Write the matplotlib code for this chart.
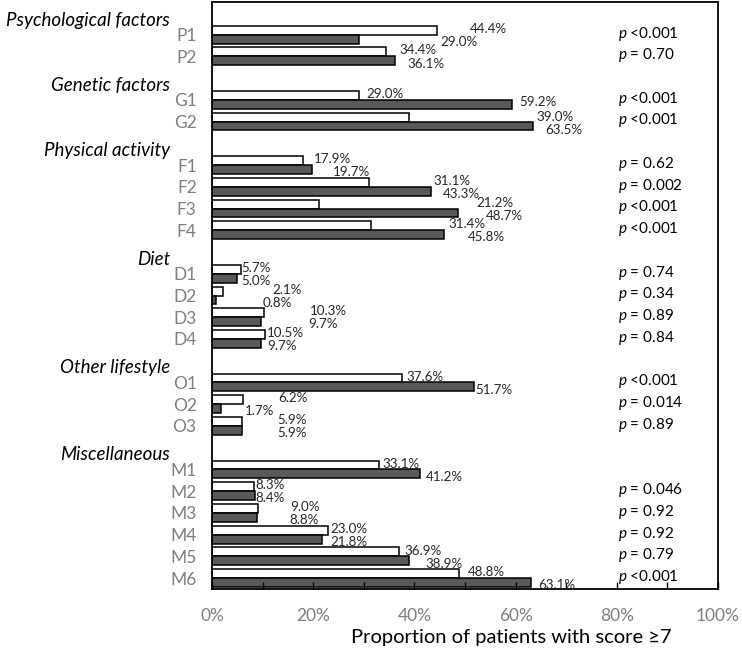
import matplotlib
matplotlib.use("Agg")
import matplotlib.pyplot as plt
from matplotlib.ticker import MultipleLocator

plt.rcParams['font.family'] = ['Lato', 'DejaVu Sans']
plt.rcParams['mathtext.fontset'] = 'custom'
plt.rcParams['mathtext.it'] = 'Lato:italic'
plt.rcParams['mathtext.rm'] = 'Lato'

# data
groups = ['Psychological factors', 'Genetic factors', 'Physical activity',
          'Diet', 'Other lifestyle', 'Miscellaneous']
group_items = [['P1', 'P2'],
               ['G1', 'G2'],
               ['F1', 'F2', 'F3', 'F4'],
               ['D1', 'D2', 'D3', 'D4'],
               ['O1', 'O2', 'O3'],
               ['M1', 'M2', 'M3', 'M4', 'M5', 'M6']]
white_vals = [44.4, 34.4, 29.0, 39.0, 17.9, 31.1, 21.2, 31.4, 5.7, 2.1, 10.3,
              10.5, 37.6, 6.2, 5.9, 33.1, 8.3, 9.0, 23.0, 36.9, 48.8]
dark_vals = [29.0, 36.1, 59.2, 63.5, 19.7, 43.3, 48.7, 45.8, 5.0, 0.8, 9.7,
             9.7, 51.7, 1.7, 5.9, 41.2, 8.4, 8.8, 21.8, 38.9, 63.1]
p_labels = ['<0.001', '= 0.70', '<0.001', '<0.001', '= 0.62', '= 0.002',
            '<0.001', '<0.001', '= 0.74', '= 0.34', '= 0.89', '= 0.84',
            '<0.001', '= 0.014', '= 0.89', '', '= 0.046', '= 0.92', '= 0.92',
            '= 0.79', '<0.001']

# value labels were dragged around by hand in the original:
# x of the label start (in %), y shift from the row centre (in rows)
white_lbl_x = [51.0, 37.0, 30.6, 64.2, 20.2, 43.7, 52.2, 46.8, 5.7, 11.9, 19.4,
               10.9, 38.5, 13.0, 13.0, 33.6, 8.5, 15.4, 23.3, 38.1, 50.6]
dark_lbl_x = [45.1, 38.7, 60.7, 65.8, 23.9, 45.7, 54.2, 50.6, 5.7, 10.1, 19.0,
              10.9, 52.0, 6.5, 13.0, 42.3, 8.5, 15.2, 23.3, 42.1, 64.4]
white_lbl_dy = [-0.27] * 21
dark_lbl_dy = [0.33] * 21
dark_lbl_dy[2] = 0.12   # G1, keep clear of G2's labels
white_lbl_dy[3] = -0.22
dark_lbl_dy[3] = 0.40

# one row per header and per item
header_pos = []
item_pos = []
item_names = []
row = 0
for g, items in zip(groups, group_items):
    header_pos.append(row)
    row += 1
    for it in items:
        item_pos.append(row)
        item_names.append(it)
        row += 1
n_rows = row

fig = plt.figure(figsize=(7.42, 6.5), dpi=100)
ax = fig.add_axes([212 / 742, 1 - 589 / 650, 506 / 742, 587 / 650])

h = 0.41
wy = [y - h / 2 for y in item_pos]
dy = [y + h / 2 for y in item_pos]
ax.barh(wy, white_vals, height=h, color='white', edgecolor='black', linewidth=1.1)
ax.barh(dy, dark_vals, height=h, color='#595959', edgecolor='black', linewidth=1.1)

for i, y in enumerate(item_pos):
    ax.text(white_lbl_x[i], y + white_lbl_dy[i], f"{white_vals[i]:.1f}%",
            ha='left', va='center', fontsize=9.6, color='#262626')
    ax.text(dark_lbl_x[i], y + dark_lbl_dy[i], f"{dark_vals[i]:.1f}%",
            ha='left', va='center', fontsize=9.6, color='#262626')
    if p_labels[i]:
        ax.text(80.2, y - 0.05, "$p$ " + p_labels[i], ha='left', va='center',
                fontsize=11, color='black')

for g, y in zip(groups, header_pos):
    ax.annotate(g, xy=(0, y + 0.33), xycoords=('axes fraction', 'data'),
                xytext=(-42, 0), textcoords='offset pixels', ha='right',
                va='center', fontsize=13.5, style='italic', color='black')

ax.set_ylim(n_rows - 0.5, -0.5)
ax.set_yticks(item_pos)
ax.set_yticklabels(item_names, color='#7f7f7f', fontsize=12.5)
ax.tick_params(axis='y', length=0, pad=11)

ax.set_xlim(0, 100)
ax.set_xticks(range(0, 101, 20))
ax.set_xticklabels([f"{t}%" for t in range(0, 101, 20)], color='#7f7f7f', fontsize=12.5)
ax.xaxis.set_minor_locator(MultipleLocator(10))
ax.tick_params(axis='x', which='both', direction='in', length=5, width=1, pad=14)

for s in ax.spines.values():
    s.set_linewidth(1.3)
    s.set_color('black')

fig.text(511 / 742, 1 - 638 / 650, "Proportion of patients with score \u22657",
         ha='center', va='center', fontsize=14.5, color='black')

fig.savefig('out.png', dpi=100)
